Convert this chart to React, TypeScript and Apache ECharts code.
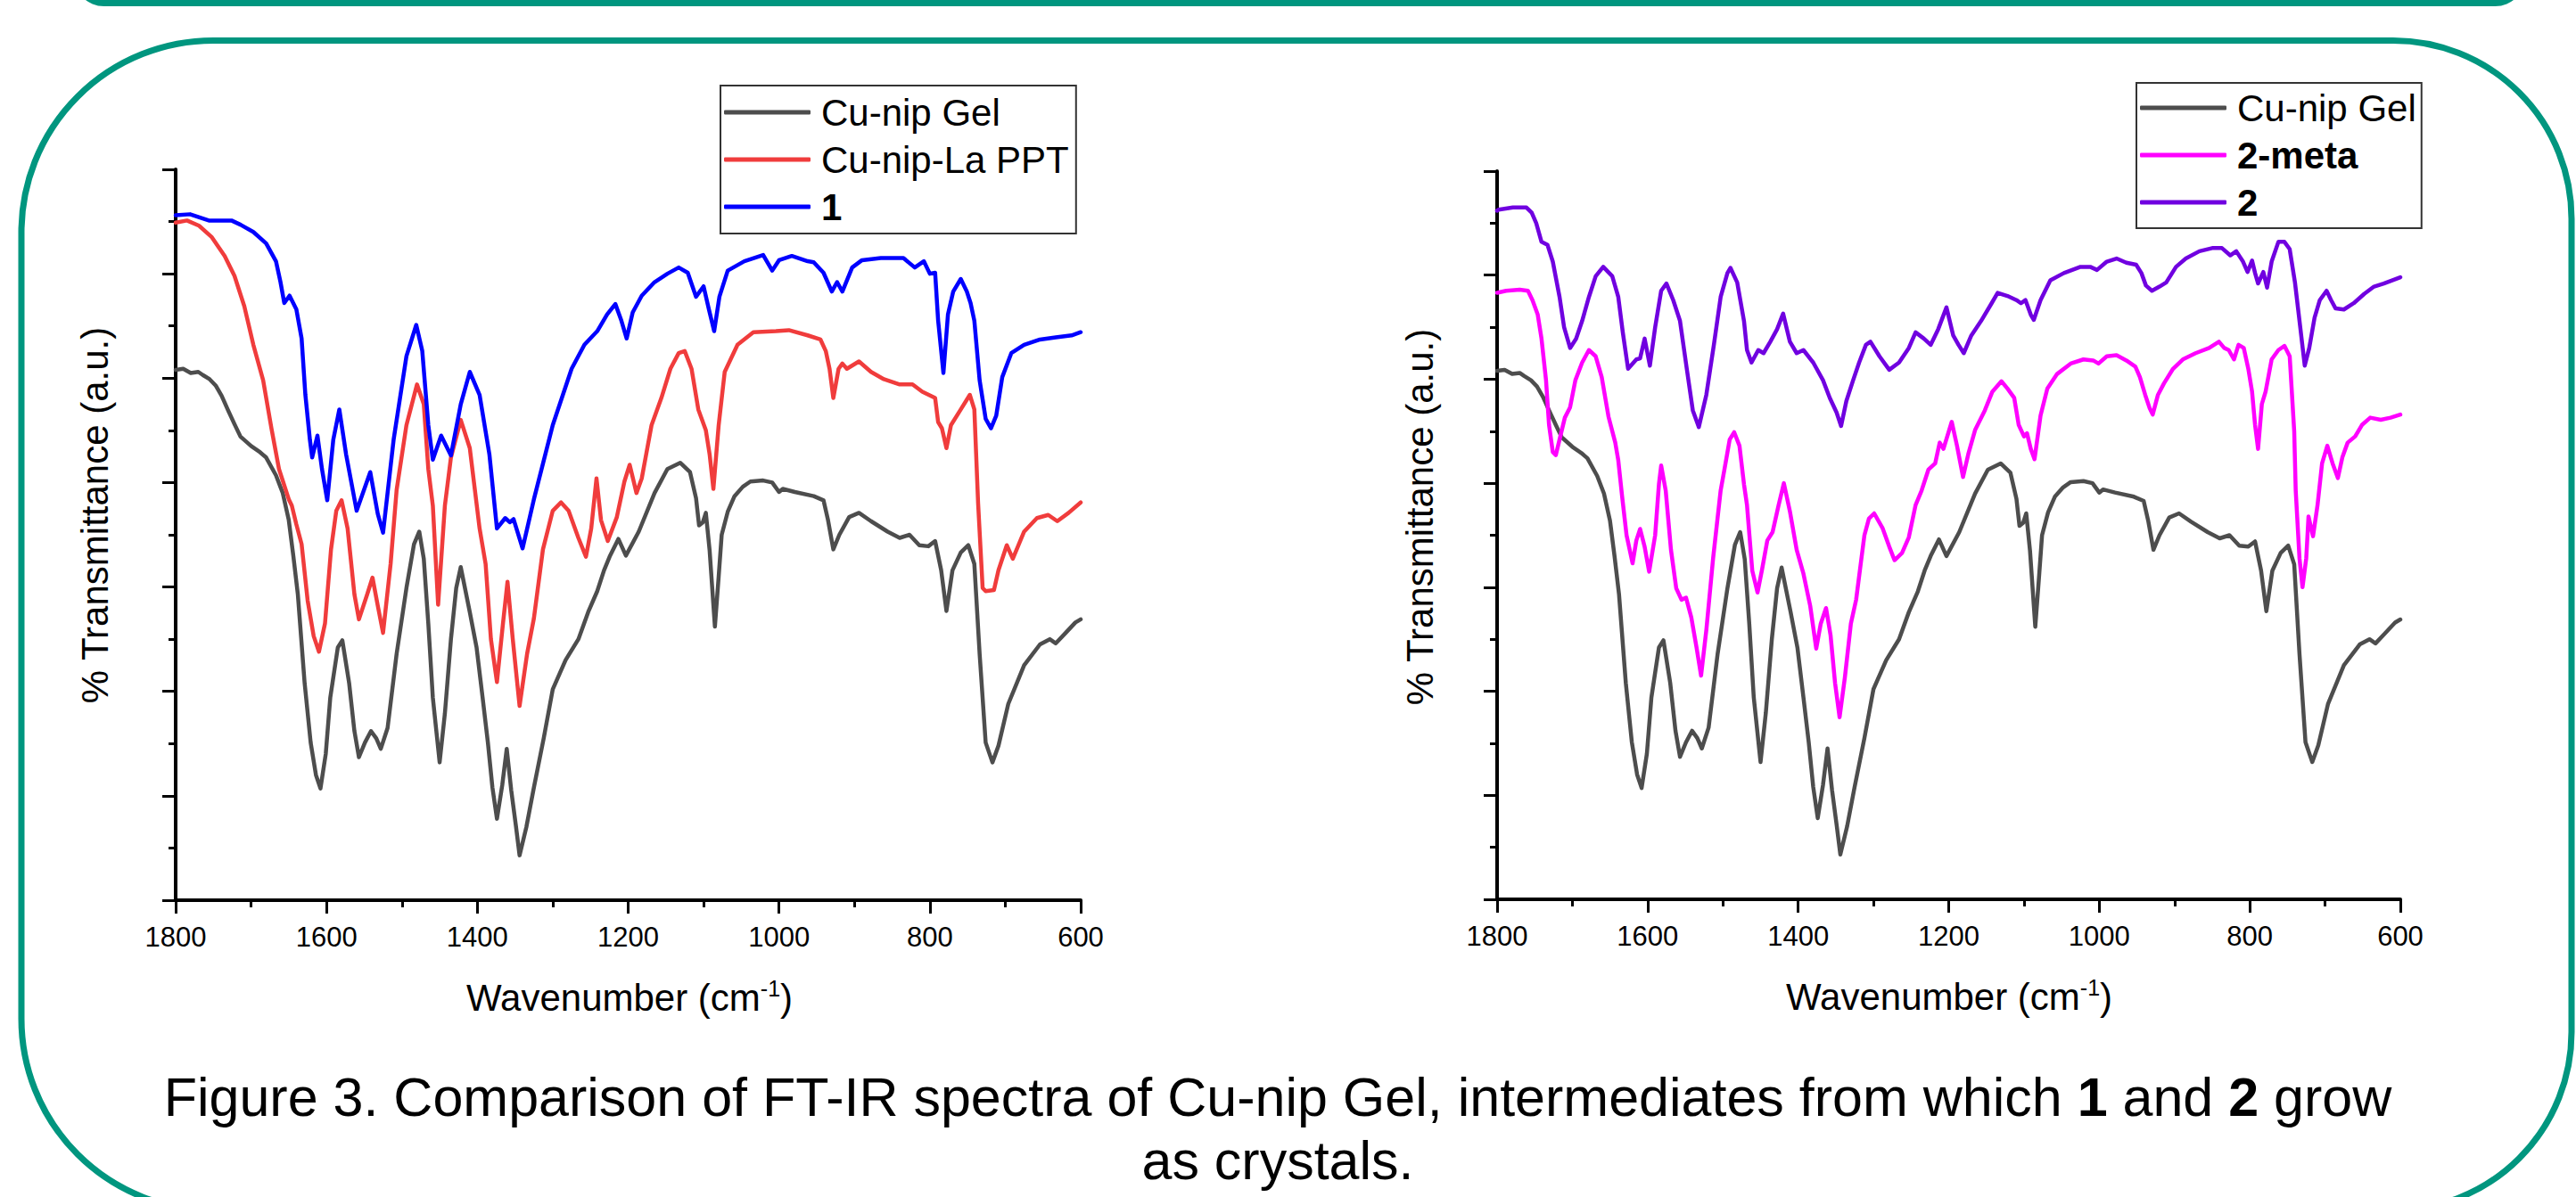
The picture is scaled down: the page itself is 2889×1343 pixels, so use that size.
import React, { useEffect, useRef } from 'react';
import * as echarts from 'echarts';

const W = 2889;
const H = 1343;
const TEAL = '#00967f';
const FONT = 'Liberation Sans, Arial, sans-serif';

const GRAY = '#4d4d4d';
const RED = '#f03c3c';
const BLUE = '#0000ff';
const MAGENTA = '#ff00ff';
const PURPLE = '#7000e0';

const xTicks = [1800, 1600, 1400, 1200, 1000, 800, 600];
const yTickCount = 7;

const legendLeft = ['Cu-nip Gel', 'Cu-nip-La PPT', '1'];
const legendRight = ['Cu-nip Gel', '2-meta', '2'];
const boldNames = ['1', '2', '2-meta'];

// Cu-nip Gel (same trace in both panels)
const gelData = [
  [1800, 5.08], [1790, 5.09], [1780, 5.05], [1770, 5.06], [1764, 5.03], [1755, 4.99], [1747, 4.93],
  [1739, 4.83], [1731, 4.7], [1722, 4.56], [1714, 4.44], [1700, 4.35], [1688, 4.29], [1680, 4.24],
  [1667, 4.07], [1658, 3.9], [1650, 3.64], [1644, 3.3], [1638, 2.93], [1629, 2.08], [1621, 1.51],
  [1614, 1.2], [1608, 1.07], [1601, 1.4], [1595, 1.94], [1585, 2.42], [1579, 2.49], [1570, 2.08],
  [1563, 1.62], [1557, 1.37], [1549, 1.51], [1541, 1.62], [1534, 1.55], [1528, 1.45], [1519, 1.65],
  [1507, 2.36], [1494, 2.99], [1484, 3.41], [1477, 3.53], [1471, 3.27], [1465, 2.65], [1459, 1.94],
  [1450, 1.32], [1443, 1.79], [1435, 2.5], [1428, 2.99], [1422, 3.19], [1410, 2.76], [1401, 2.42],
  [1393, 1.94], [1386, 1.51], [1380, 1.08], [1374, 0.78], [1367, 1.1], [1361, 1.45], [1355, 1.05],
  [1349, 0.72], [1344, 0.43], [1335, 0.7], [1325, 1.08], [1312, 1.55], [1300, 2.02], [1283, 2.3],
  [1266, 2.5], [1253, 2.76], [1241, 2.96], [1232, 3.16], [1224, 3.3], [1213, 3.46], [1203, 3.3],
  [1186, 3.53], [1165, 3.9], [1148, 4.13], [1131, 4.19], [1118, 4.1], [1110, 3.85], [1106, 3.59],
  [1101, 3.62], [1097, 3.71], [1092, 3.35], [1085, 2.62], [1080, 3.1], [1076, 3.5], [1068, 3.72],
  [1059, 3.87], [1048, 3.96], [1038, 4.01], [1021, 4.02], [1009, 4.0], [1000, 3.91], [995, 3.94],
  [979, 3.91], [954, 3.87], [941, 3.83], [935, 3.64], [928, 3.36], [920, 3.5], [907, 3.67],
  [894, 3.71], [878, 3.63], [856, 3.53], [840, 3.47], [827, 3.5], [814, 3.4], [802, 3.39],
  [793, 3.44], [785, 3.16], [778, 2.77], [770, 3.16], [759, 3.33], [749, 3.4], [741, 3.22],
  [734, 2.36], [726, 1.51], [717, 1.32], [709, 1.48], [696, 1.88], [675, 2.25], [654, 2.45],
  [641, 2.5], [633, 2.46], [620, 2.56], [607, 2.66], [600, 2.69],
];

// Cu-nip-La PPT
const laPptData = [
  [1800, 6.49], [1785, 6.51], [1769, 6.46], [1752, 6.35], [1735, 6.17], [1722, 5.98], [1709, 5.69],
  [1697, 5.32], [1684, 4.98], [1673, 4.52], [1663, 4.13], [1650, 3.84], [1646, 3.78], [1640, 3.6],
  [1633, 3.41], [1625, 2.87], [1617, 2.53], [1610, 2.38], [1602, 2.65], [1594, 3.36], [1587, 3.73],
  [1580, 3.83], [1572, 3.56], [1563, 2.93], [1557, 2.69], [1546, 2.93], [1539, 3.09], [1532, 2.82],
  [1525, 2.56], [1515, 3.22], [1507, 3.93], [1494, 4.55], [1480, 4.94], [1471, 4.75], [1465, 4.13],
  [1459, 3.78], [1452, 2.83], [1443, 3.78], [1435, 4.24], [1422, 4.6], [1410, 4.33], [1397, 3.56],
  [1389, 3.22], [1382, 2.5], [1374, 2.09], [1366, 2.65], [1360, 3.05], [1353, 2.5], [1344, 1.86],
  [1334, 2.36], [1325, 2.7], [1313, 3.36], [1300, 3.73], [1289, 3.81], [1279, 3.73], [1266, 3.47],
  [1256, 3.29], [1249, 3.56], [1242, 4.04], [1236, 3.64], [1227, 3.44], [1215, 3.67], [1205, 4.01],
  [1198, 4.17], [1189, 3.9], [1182, 4.04], [1169, 4.55], [1156, 4.81], [1144, 5.09], [1133, 5.24],
  [1125, 5.26], [1116, 5.09], [1107, 4.7], [1097, 4.5], [1092, 4.27], [1087, 3.94], [1080, 4.55],
  [1072, 5.06], [1055, 5.32], [1034, 5.44], [1004, 5.45], [987, 5.46], [962, 5.41], [945, 5.37],
  [938, 5.26], [933, 5.09], [928, 4.81], [921, 5.09], [916, 5.14], [910, 5.09], [894, 5.16],
  [878, 5.06], [861, 4.99], [840, 4.94], [823, 4.94], [810, 4.87], [793, 4.81], [789, 4.58],
  [784, 4.52], [778, 4.33], [772, 4.55], [759, 4.7], [747, 4.84], [741, 4.7], [736, 3.8],
  [730, 2.99], [726, 2.96], [715, 2.97], [709, 3.16], [698, 3.4], [690, 3.27], [675, 3.53],
  [658, 3.66], [643, 3.69], [631, 3.63], [616, 3.71], [600, 3.81],
];

// compound 1
const c1Data = [
  [1800, 6.56], [1781, 6.57], [1756, 6.51], [1740, 6.51], [1726, 6.51], [1714, 6.47], [1697, 6.4],
  [1680, 6.29], [1667, 6.12], [1661, 5.92], [1656, 5.72], [1649, 5.79], [1640, 5.66], [1633, 5.38],
  [1628, 4.84], [1622, 4.41], [1619, 4.24], [1612, 4.45], [1606, 4.13], [1599, 3.83], [1591, 4.41],
  [1583, 4.7], [1574, 4.27], [1560, 3.73], [1542, 4.1], [1532, 3.7], [1525, 3.52], [1511, 4.41],
  [1494, 5.21], [1481, 5.51], [1473, 5.26], [1465, 4.55], [1459, 4.22], [1448, 4.45], [1435, 4.26],
  [1422, 4.75], [1410, 5.06], [1397, 4.84], [1384, 4.27], [1374, 3.56], [1363, 3.66], [1357, 3.62],
  [1352, 3.65], [1340, 3.37], [1325, 3.84], [1300, 4.55], [1275, 5.09], [1258, 5.32], [1241, 5.45],
  [1228, 5.61], [1217, 5.71], [1209, 5.55], [1202, 5.38], [1194, 5.63], [1182, 5.79], [1165, 5.92],
  [1148, 6.0], [1133, 6.06], [1121, 6.01], [1110, 5.78], [1100, 5.88], [1093, 5.66], [1086, 5.45],
  [1079, 5.78], [1068, 6.03], [1046, 6.12], [1021, 6.18], [1009, 6.03], [1000, 6.13], [983, 6.17],
  [962, 6.12], [954, 6.11], [941, 6.01], [930, 5.83], [923, 5.92], [916, 5.83], [903, 6.06],
  [890, 6.13], [865, 6.15], [835, 6.15], [820, 6.06], [808, 6.12], [800, 6.0], [793, 6.01],
  [789, 5.55], [782, 5.05], [776, 5.61], [769, 5.83], [759, 5.95], [751, 5.83], [746, 5.72],
  [741, 5.55], [734, 4.98], [726, 4.61], [719, 4.52], [712, 4.64], [704, 5.01], [692, 5.24],
  [675, 5.32], [654, 5.37], [633, 5.39], [612, 5.41], [600, 5.44],
];

// 2-meta
const metaData = [
  [1800, 5.83], [1788, 5.85], [1770, 5.86], [1759, 5.85], [1753, 5.76], [1746, 5.62], [1741, 5.39],
  [1735, 4.99], [1731, 4.56], [1726, 4.3], [1722, 4.27], [1717, 4.42], [1710, 4.63], [1703, 4.73],
  [1696, 4.99], [1687, 5.16], [1678, 5.28], [1669, 5.22], [1661, 5.02], [1652, 4.64], [1643, 4.39],
  [1639, 4.22], [1634, 3.88], [1628, 3.5], [1620, 3.23], [1615, 3.45], [1610, 3.56], [1604, 3.39],
  [1598, 3.15], [1590, 3.5], [1585, 3.99], [1582, 4.17], [1576, 3.93], [1569, 3.36], [1562, 2.99],
  [1555, 2.88], [1549, 2.9], [1542, 2.71], [1535, 2.42], [1529, 2.15], [1522, 2.59], [1513, 3.28],
  [1503, 3.93], [1498, 4.13], [1491, 4.42], [1485, 4.49], [1478, 4.36], [1472, 3.99], [1468, 3.79],
  [1461, 3.16], [1454, 2.95], [1448, 3.17], [1441, 3.45], [1434, 3.53], [1426, 3.79], [1419, 4.0],
  [1411, 3.73], [1402, 3.36], [1393, 3.13], [1384, 2.82], [1376, 2.41], [1370, 2.65], [1363, 2.8],
  [1357, 2.54], [1351, 2.08], [1345, 1.75], [1338, 2.13], [1330, 2.65], [1323, 2.88], [1317, 3.22],
  [1312, 3.5], [1306, 3.66], [1299, 3.71], [1288, 3.57], [1279, 3.39], [1272, 3.26], [1262, 3.33],
  [1253, 3.48], [1244, 3.79], [1236, 3.93], [1227, 4.13], [1218, 4.19], [1212, 4.39], [1207, 4.33],
  [1196, 4.59], [1189, 4.36], [1181, 4.06], [1174, 4.28], [1165, 4.51], [1152, 4.7], [1142, 4.88],
  [1130, 4.98], [1122, 4.91], [1113, 4.82], [1107, 4.56], [1100, 4.45], [1096, 4.48], [1091, 4.33],
  [1086, 4.23], [1078, 4.65], [1069, 4.91], [1056, 5.05], [1038, 5.15], [1021, 5.19], [1008, 5.18],
  [1001, 5.15], [990, 5.22], [977, 5.23], [964, 5.18], [952, 5.12], [946, 5.02], [939, 4.85],
  [933, 4.72], [929, 4.66], [922, 4.85], [914, 4.96], [902, 5.1], [889, 5.19], [872, 5.25],
  [854, 5.3], [841, 5.36], [834, 5.3], [828, 5.28], [821, 5.19], [815, 5.33], [808, 5.3],
  [802, 5.1], [797, 4.88], [793, 4.56], [789, 4.33], [784, 4.76], [779, 4.88], [771, 5.19],
  [762, 5.28], [754, 5.32], [747, 5.22], [741, 4.5], [739, 3.93], [734, 3.28], [730, 3.0],
  [725, 3.28], [722, 3.68], [716, 3.49], [710, 3.79], [704, 4.19], [697, 4.36], [690, 4.19],
  [683, 4.05], [677, 4.25], [670, 4.39], [660, 4.45], [651, 4.56], [640, 4.63], [626, 4.61],
  [613, 4.63], [600, 4.66],
];

// compound 2
const c2Data = [
  [1800, 6.62], [1798, 6.63], [1779, 6.65], [1761, 6.65], [1754, 6.6], [1748, 6.5], [1741, 6.32],
  [1733, 6.29], [1726, 6.13], [1717, 5.79], [1711, 5.5], [1703, 5.3], [1695, 5.39], [1687, 5.56],
  [1678, 5.79], [1669, 5.99], [1659, 6.08], [1647, 5.99], [1639, 5.79], [1633, 5.45], [1626, 5.1],
  [1615, 5.19], [1610, 5.2], [1604, 5.39], [1597, 5.13], [1590, 5.5], [1582, 5.85], [1575, 5.92],
  [1566, 5.76], [1557, 5.56], [1548, 5.1], [1540, 4.7], [1532, 4.54], [1522, 4.85], [1512, 5.33],
  [1503, 5.79], [1494, 6.02], [1490, 6.07], [1481, 5.93], [1472, 5.56], [1468, 5.28], [1462, 5.16],
  [1453, 5.28], [1446, 5.25], [1437, 5.36], [1428, 5.48], [1420, 5.63], [1411, 5.36], [1402, 5.25],
  [1393, 5.28], [1380, 5.16], [1367, 4.99], [1358, 4.82], [1349, 4.68], [1343, 4.55], [1336, 4.79],
  [1327, 4.99], [1319, 5.16], [1310, 5.33], [1304, 5.36], [1292, 5.22], [1279, 5.09], [1266, 5.16],
  [1253, 5.3], [1244, 5.45], [1233, 5.39], [1224, 5.33], [1214, 5.48], [1203, 5.69], [1194, 5.42],
  [1187, 5.33], [1180, 5.25], [1170, 5.42], [1157, 5.56], [1143, 5.73], [1135, 5.83], [1122, 5.8],
  [1110, 5.76], [1104, 5.73], [1098, 5.76], [1091, 5.62], [1087, 5.57], [1078, 5.76], [1065, 5.95],
  [1047, 6.02], [1025, 6.08], [1012, 6.08], [1003, 6.05], [990, 6.13], [977, 6.16], [964, 6.12],
  [951, 6.1], [944, 6.02], [938, 5.9], [930, 5.85], [920, 5.89], [911, 5.93], [898, 6.08],
  [885, 6.16], [867, 6.23], [850, 6.26], [837, 6.26], [826, 6.19], [818, 6.23], [809, 6.13],
  [803, 6.03], [797, 6.14], [793, 6.02], [789, 5.92], [782, 6.03], [777, 5.88], [771, 6.13],
  [762, 6.32], [754, 6.32], [747, 6.25], [740, 5.93], [733, 5.5], [727, 5.13], [721, 5.3],
  [714, 5.59], [707, 5.76], [698, 5.85], [692, 5.76], [686, 5.68], [675, 5.67], [662, 5.73],
  [648, 5.82], [635, 5.89], [622, 5.92], [600, 5.98],
];

const captionLine1 =
  '{n|Figure 3. Comparison of FT-IR spectra of Cu-nip Gel, intermediates from which }{b|1}{n| and }{b|2}{n| grow}';
const captionLine2 = 'as crystals.';
const yTitle = '% Transmittance (a.u.)';
const xTitle = '{m|Wavenumber (cm}{s|-1}{m|)}';

export default function App() {
  const ref = useRef<HTMLDivElement>(null);

  useEffect(() => {
    if (!ref.current) return;
    const chart = echarts.init(ref.current, null, { renderer: 'svg' });

    const xMin = Math.min(...xTicks);
    const xMax = Math.max(...xTicks);
    const xInterval = xTicks[0] - xTicks[1];

    const makeX = (gridIndex: number) => ({
      type: 'value',
      gridIndex,
      inverse: true,
      min: xMin,
      max: xMax,
      interval: xInterval,
      axisLine: { show: true, onZero: false, lineStyle: { color: '#000', width: 4 } },
      axisTick: { show: true, length: 15, lineStyle: { color: '#000', width: 3 } },
      minorTick: { show: true, splitNumber: 2, length: 8, lineStyle: { color: '#000', width: 3 } },
      splitLine: { show: false },
      minorSplitLine: { show: false },
      axisLabel: {
        fontSize: 31,
        color: '#000',
        margin: 26,
        fontFamily: FONT,
        formatter: (v: number) => String(v),
      },
    });

    const makeY = (gridIndex: number) => ({
      type: 'value',
      gridIndex,
      min: 0,
      max: yTickCount,
      interval: 1,
      axisLine: { show: true, onZero: false, lineStyle: { color: '#000', width: 4 } },
      axisTick: { show: true, length: 15, lineStyle: { color: '#000', width: 3 } },
      minorTick: { show: true, splitNumber: 2, length: 8, lineStyle: { color: '#000', width: 3 } },
      splitLine: { show: false },
      minorSplitLine: { show: false },
      axisLabel: { show: false },
    });

    const line = (name: string, data: number[][], color: string, idx: number, z: number) => ({
      type: 'line',
      name,
      xAxisIndex: idx,
      yAxisIndex: idx,
      data,
      color,
      showSymbol: false,
      symbol: 'none',
      silent: true,
      z,
      lineStyle: { width: 4.5, color, join: 'round', cap: 'round' },
      itemStyle: { color },
    });

    const legendFormatter = (name: string) =>
      boldNames.indexOf(name) >= 0 ? `{b|${name}}` : `{n|${name}}`;
    const legendText = {
      fontSize: 42,
      fontFamily: FONT,
      color: '#000',
      lineHeight: 48,
      rich: {
        n: { fontSize: 42, fontFamily: FONT, color: '#000', lineHeight: 48, padding: [0, 0, 0, 7] },
        b: { fontSize: 42, fontFamily: FONT, color: '#000', fontWeight: 'bold', lineHeight: 48, padding: [0, 0, 0, 7] },
      },
    };
    const legendBase = {
      orient: 'vertical',
      itemGap: 5,
      itemWidth: 97,
      itemHeight: 5,
      icon: 'roundRect',
      backgroundColor: '#fff',
      borderColor: '#333',
      borderWidth: 2,
      borderRadius: 0,
      selectedMode: false,
      formatter: legendFormatter,
      textStyle: legendText,
    };

    const titleRich = {
      m: { fontSize: 42, fontFamily: FONT, fill: '#000', color: '#000', lineHeight: 46 },
      s: { fontSize: 25, fontFamily: FONT, fill: '#000', color: '#000', lineHeight: 18, verticalAlign: 'top' },
    };

    const option: any = {
      animation: false,
      backgroundColor: '#fff',
      textStyle: { fontFamily: FONT },
      grid: [
        { left: 197, top: 190, width: 1015, height: 820 },
        { left: 1679, top: 192, width: 1013, height: 817 },
      ],
      xAxis: [makeX(0), makeX(1)],
      yAxis: [makeY(0), makeY(1)],
      legend: [
        { ...legendBase, data: legendLeft, left: 808, top: 96, padding: [6, 8, 6, 4] },
        { ...legendBase, data: legendRight, left: 2396, top: 93, padding: [4, 6, 5, 4] },
      ],
      series: [
        line('Cu-nip Gel', gelData, GRAY, 0, 2),
        line('Cu-nip-La PPT', laPptData, RED, 0, 3),
        line('1', c1Data, BLUE, 0, 4),
        line('Cu-nip Gel', gelData, GRAY, 1, 2),
        line('2-meta', metaData, MAGENTA, 1, 3),
        line('2', c2Data, PURPLE, 1, 4),
      ],
      graphic: {
        elements: [
          {
            type: 'rect',
            silent: true,
            shape: { x: 83, y: -60, width: 2749, height: 67, r: 40 },
            style: { fill: TEAL },
          },
          {
            type: 'rect',
            silent: true,
            shape: { x: 24, y: 45.5, width: 2860, height: 1312.5, r: [215, 200, 200, 215] },
            style: { fill: 'none', stroke: TEAL, lineWidth: 7 },
          },
          {
            type: 'text',
            silent: true,
            x: 106,
            y: 578,
            rotation: Math.PI / 2,
            style: { text: yTitle, fontSize: 42, fontFamily: FONT, fill: '#000', align: 'center', verticalAlign: 'middle' },
          },
          {
            type: 'text',
            silent: true,
            x: 1592,
            y: 580,
            rotation: Math.PI / 2,
            style: { text: yTitle, fontSize: 42, fontFamily: FONT, fill: '#000', align: 'center', verticalAlign: 'middle' },
          },
          {
            type: 'text',
            silent: true,
            x: 706,
            y: 1119,
            style: { text: xTitle, rich: titleRich, fontSize: 42, fontFamily: FONT, fill: '#000', align: 'center', verticalAlign: 'middle' },
          },
          {
            type: 'text',
            silent: true,
            x: 2186,
            y: 1118,
            style: { text: xTitle, rich: titleRich, fontSize: 42, fontFamily: FONT, fill: '#000', align: 'center', verticalAlign: 'middle' },
          },
          {
            type: 'text',
            silent: true,
            x: 1433,
            y: 1231,
            style: {
              text: captionLine1,
              fontSize: 61,
              fontFamily: FONT,
              fill: '#000',
              align: 'center',
              verticalAlign: 'middle',
              rich: {
                n: { fontSize: 61, fontFamily: FONT, fill: '#000', color: '#000' },
                b: { fontSize: 61, fontFamily: FONT, fill: '#000', color: '#000', fontWeight: 'bold' },
              },
            },
          },
          {
            type: 'text',
            silent: true,
            x: 1433,
            y: 1302,
            style: { text: captionLine2, fontSize: 61, fontFamily: FONT, fill: '#000', align: 'center', verticalAlign: 'middle' },
          },
        ],
      },
    };

    chart.setOption(option);
    return () => chart.dispose();
  }, []);

  return (
    <div
      ref={ref}
      style={{ position: 'fixed', left: 0, top: 0, width: W, height: H, background: '#fff' }}
    />
  );
}
